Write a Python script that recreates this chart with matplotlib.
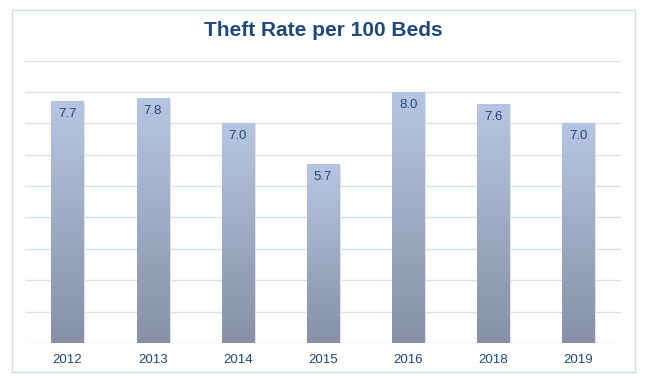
import matplotlib
matplotlib.use("Agg")
import matplotlib.pyplot as plt
import numpy as np
from matplotlib.patches import Rectangle
from matplotlib.colors import LinearSegmentedColormap

years = ["2012", "2013", "2014", "2015", "2016", "2018", "2019"]
rates = [7.7, 7.8, 7.0, 5.7, 8.0, 7.6, 7.0]
title = "Theft Rate per 100 Beds"

plt.rcParams['font.family'] = ['Liberation Sans', 'DejaVu Sans']
text_color = "#1f497d"

W, H = 647, 383
fig = plt.figure(figsize=(W/100, H/100), dpi=100)
fig.patch.set_facecolor("white")

# outer border
fig.patches.append(Rectangle((12/W, (H-372)/H), (635-12)/W, (372-10)/H,
                             transform=fig.transFigure, fill=False,
                             edgecolor="#d0dcec", linewidth=1))

ax = fig.add_axes([25/W, (H-343)/H, (621-25)/W, (343-60.5)/H])
ax.set_xlim(-0.5, len(years)-0.5)
ax.set_ylim(0, 9)
ax.set_yticks(np.arange(0, 10, 1))
ax.yaxis.grid(True, color="#d5e1f0", linewidth=1)
ax.set_axisbelow(True)
for s in ax.spines.values():
    s.set_visible(False)
ax.tick_params(axis='y', left=False, labelleft=False)
ax.tick_params(axis='x', length=0, pad=8, labelsize=9.5, labelcolor=text_color)
ax.set_xticks(range(len(years)))
ax.set_xticklabels(years)

cmap = LinearSegmentedColormap.from_list("g", ["#8790a6", "#b6c6e2"])
grad = np.linspace(0, 1, 256).reshape(-1, 1)
bw = 0.38
bars = ax.bar(range(len(years)), rates, width=bw, color="none", zorder=2)
for i, (b, v) in enumerate(zip(bars, rates)):
    x0 = b.get_x()
    # shadow
    ax.add_patch(Rectangle((x0 + 0.02, 0), bw, v - 0.02, facecolor="#e4e4e4",
                           edgecolor="none", zorder=1.5))
    im = ax.imshow(grad, extent=(x0, x0 + bw, 0, v), origin="lower",
                   cmap=cmap, aspect="auto", zorder=2)
    clip = Rectangle((x0, 0), bw, v, transform=ax.transData, facecolor="none",
                     edgecolor="none")
    ax.add_patch(clip)
    im.set_clip_path(clip)
    ax.text(i, v - 0.22, f"{v:.1f}", ha="center", va="top", fontsize=9.5,
            color=text_color, zorder=3)
ax.set_xlim(-0.5, len(years)-0.5)
ax.set_ylim(0, 9)

fig.text(0.5, (H-31)/H, title, ha="center", va="center", fontsize=15,
         fontweight="bold", color=text_color)

fig.savefig("out.png", dpi=100, facecolor="white")
